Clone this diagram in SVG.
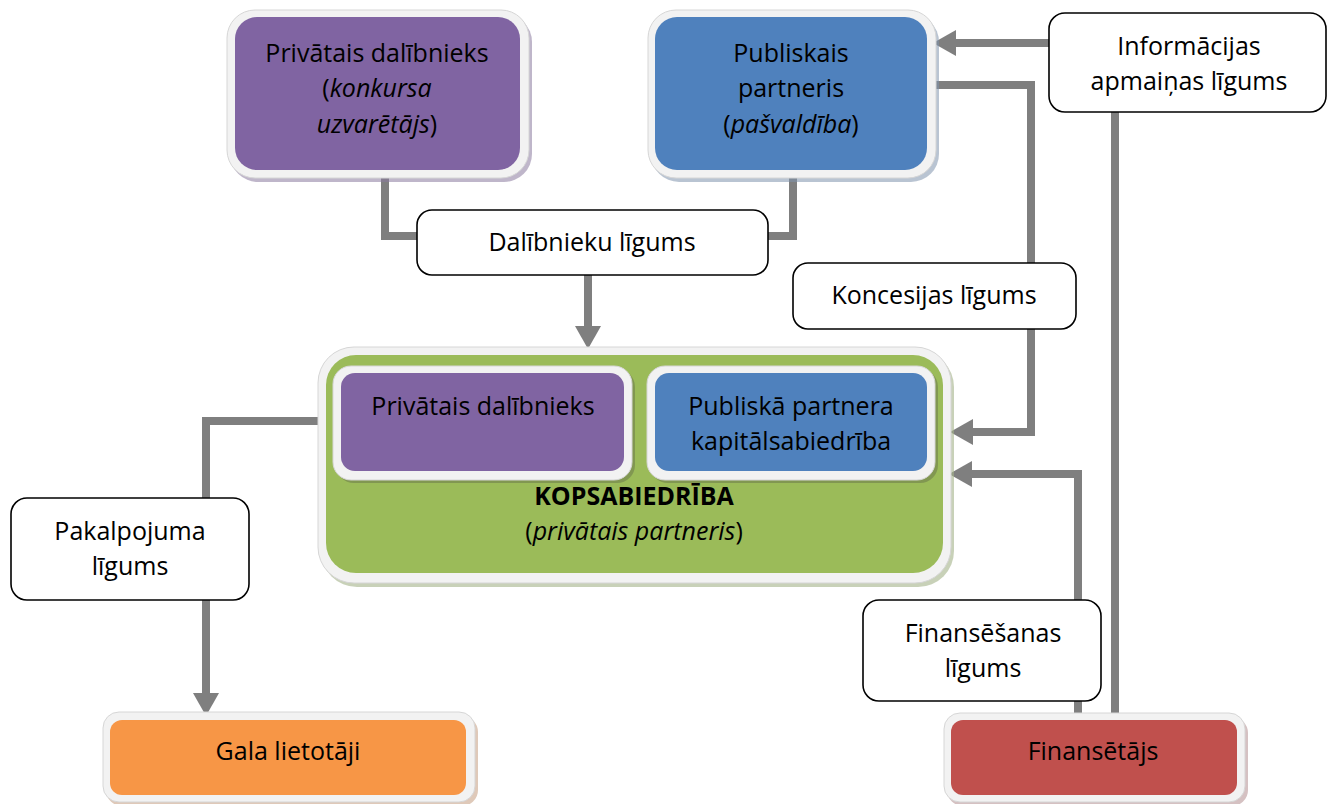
<svg xmlns="http://www.w3.org/2000/svg" width="1328" height="804" viewBox="0 0 1328 804">
<defs>
<marker id="ah" markerUnits="userSpaceOnUse" markerWidth="24" markerHeight="26" refX="0" refY="13" orient="auto">
<path d="M0,0 L23,13 L0,26 z" fill="#7f7f7f"/>
</marker>
<style>
.bg{fill:#ffffff}
.ring{fill:#f2f2f2;stroke:#d6d6d6;stroke-width:1}
.lab{fill:#ffffff;stroke:#000000;stroke-width:1.6}
.conn{fill:none;stroke:#7f7f7f;stroke-width:8;stroke-linejoin:miter}
text{font-family:"Open Sans","Liberation Sans",sans-serif;font-size:25px;fill:#000000;text-anchor:middle}
.b{font-weight:bold}
.i{font-style:italic}
</style>
</defs>
<rect class="bg" x="0" y="0" width="1328" height="804"/>
<g id="connectors">
<path class="conn" d="M1049,43 H956" marker-end="url(#ah)"/>
<path class="conn" d="M928,85 H1031 V432 H973" marker-end="url(#ah)"/>
<path class="conn" d="M1078,716 V474 H972" marker-end="url(#ah)"/>
<path class="conn" d="M1115,716 V110"/>
<path class="conn" d="M385,172 V236 H420"/>
<path class="conn" d="M793,172 V236 H765"/>
<path class="conn" d="M588,275 V326" marker-end="url(#ah)"/>
<path class="conn" d="M320,421 H206 V693" marker-end="url(#ah)"/>
</g>
<g id="node-privatais">
<rect x="230" y="14" width="302" height="168" rx="28" fill="#8a7a9e" opacity="0.55"/>
<rect class="ring" x="227" y="10" width="302" height="168" rx="28"/>
<rect x="235" y="17" width="285" height="153" rx="22" fill="#8064a2"/>
<text x="377" y="62">Privātais dalībnieks</text>
<text x="377" y="97">(<tspan class="i">konkursa</tspan></text>
<text x="377" y="133"><tspan class="i">uzvarētājs</tspan>)</text>
</g>
<g id="node-publiskais">
<rect x="651" y="14" width="288" height="168" rx="28" fill="#7f93ad" opacity="0.55"/>
<rect class="ring" x="648" y="10" width="288" height="168" rx="28"/>
<rect x="655" y="17" width="272" height="153" rx="22" fill="#4f81bd"/>
<text x="791" y="62">Publiskais</text>
<text x="791" y="97">partneris</text>
<text x="791" y="133">(<tspan class="i">pašvaldība</tspan>)</text>
</g>
<g id="node-informacijas">
<rect class="lab" x="1049" y="13" width="277" height="99" rx="16"/>
<text x="1189" y="55">Informācijas</text>
<text x="1189" y="90">apmaiņas līgums</text>
</g>
<g id="node-dalibnieku">
<rect class="lab" x="417" y="210" width="351" height="65" rx="15"/>
<text x="592" y="251">Dalībnieku līgums</text>
</g>
<g id="node-koncesijas">
<rect class="lab" x="793" y="263" width="283" height="66" rx="15"/>
<text x="934" y="304">Koncesijas līgums</text>
</g>
<g id="node-kopsabiedriba">
<rect x="321" y="351" width="633" height="236" rx="36" fill="#a3b389" opacity="0.6"/>
<rect class="ring" x="318" y="347" width="633" height="236" rx="36"/>
<rect x="326" y="355" width="617" height="218" rx="30" fill="#9bbb59"/>
<text class="b" x="634" y="505">KOPSABIEDRĪBA</text>
<text x="634" y="540">(<tspan class="i">privātais partneris</tspan>)</text>
</g>
<g id="node-privatais-inner">
<rect x="336" y="369" width="299" height="114" rx="18" fill="#6b7a4a" opacity="0.55"/>
<rect class="ring" x="333" y="366" width="299" height="114" rx="18"/>
<rect x="341" y="373" width="283" height="98" rx="14" fill="#8064a2"/>
<text x="483" y="415">Privātais dalībnieks</text>
</g>
<g id="node-kapitalsabiedriba">
<rect x="650" y="369" width="288" height="114" rx="18" fill="#6b7a4a" opacity="0.55"/>
<rect class="ring" x="647" y="366" width="288" height="114" rx="18"/>
<rect x="655" y="373" width="272" height="98" rx="14" fill="#4f81bd"/>
<text x="791" y="415">Publiskā partnera</text>
<text x="791" y="450">kapitālsabiedrība</text>
</g>
<g id="node-pakalpojuma">
<rect class="lab" x="11" y="498" width="238" height="102" rx="16"/>
<text x="130" y="540">Pakalpojuma</text>
<text x="130" y="575">līgums</text>
</g>
<g id="node-finansesanas">
<rect class="lab" x="863" y="600" width="238" height="101" rx="16"/>
<text x="983" y="642">Finansēšanas</text>
<text x="983" y="677">līgums</text>
</g>
<g id="node-gala">
<rect x="106" y="716" width="372" height="90" rx="16" fill="#c9a58a" opacity="0.6"/>
<rect class="ring" x="103" y="712" width="372" height="90" rx="16"/>
<rect x="110" y="720" width="356" height="75" rx="12" fill="#f79646"/>
<text x="288" y="760">Gala lietotāji</text>
</g>
<g id="node-finansetajs">
<rect x="947" y="717" width="301" height="89" rx="16" fill="#b9989a" opacity="0.6"/>
<rect class="ring" x="944" y="713" width="301" height="89" rx="16"/>
<rect x="951" y="720" width="286" height="75" rx="12" fill="#c0504d"/>
<text x="1093" y="760">Finansētājs</text>
</g>
</svg>
